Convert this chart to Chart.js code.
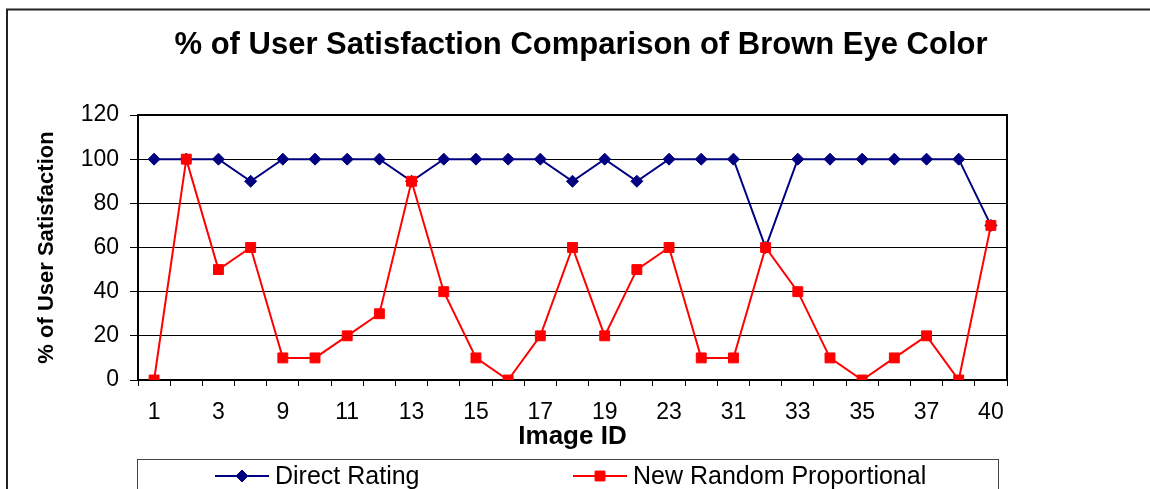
<!DOCTYPE html>
<html>
<head>
<meta charset="utf-8">
<title>% of User Satisfaction Comparison of Brown Eye Color</title>
<script src="https://cdn.jsdelivr.net/npm/chart.js@4.4.1/dist/chart.umd.min.js"></script>
<style>
  html, body { margin: 0; padding: 0; background: #fff; }
  canvas { display: block; }
</style>
</head>
<body>
<canvas id="chart" width="1150" height="489"></canvas>
<script>
// Image IDs along the x axis (every other one is labelled)
const imageIds = ['1', '2', '3', '6', '9', '10', '11', '12', '13', '14', '15', '16', '17', '18',
                  '19', '21', '23', '27', '31', '32', '33', '34', '35', '36', '37', '39', '40'];

// % of user satisfaction per image
const directRating = [100, 100, 100, 90, 100, 100, 100, 100, 90, 100, 100, 100, 100, 90,
                      100, 90, 100, 100, 100, 60, 100, 100, 100, 100, 100, 100, 70];
const newRandomProportional = [0, 100, 50, 60, 10, 10, 20, 30, 90, 40, 10, 0, 20, 60,
                               20, 50, 60, 10, 10, 60, 40, 10, 0, 10, 20, 0, 70];

// Value axis ticks
const yTicks = [0, 20, 40, 60, 80, 100, 120];

const FONT = "'Liberation Sans', Arial, Helvetica, sans-serif";

// Thin frame around the whole figure
const outerFrame = {
  id: 'outerFrame',
  beforeDraw(chart) {
    const ctx = chart.ctx;
    ctx.save();
    ctx.strokeStyle = '#222';
    ctx.lineWidth = 2;
    ctx.strokeRect(7, 9.5, 1400, 800);
    ctx.restore();
  }
};

// Black box around the plot area
const plotFrame = {
  id: 'plotFrame',
  beforeDatasetsDraw(chart) {
    const { ctx, chartArea: a } = chart;
    ctx.save();
    ctx.strokeStyle = '#000';
    ctx.lineWidth = 2;
    ctx.strokeRect(a.left, a.top, a.right - a.left, a.bottom - a.top);
    ctx.restore();
  }
};

// Legend in a bordered box under the axis, line + marker per series
const boxedLegend = {
  id: 'boxedLegend',
  afterDraw(chart, args, opts) {
    const ctx = chart.ctx;
    ctx.save();
    ctx.strokeStyle = '#444';
    ctx.lineWidth = 1;
    ctx.strokeRect(opts.left + 0.5, opts.top + 0.5, opts.right - opts.left, 80);
    ctx.font = opts.fontSize + 'px ' + FONT;
    ctx.textBaseline = 'middle';
    ctx.textAlign = 'left';
    chart.data.datasets.forEach((ds, i) => {
      const cx = opts.symbolX[i];
      const y = opts.y;
      ctx.strokeStyle = ds.borderColor;
      ctx.lineWidth = 2;
      ctx.beginPath();
      ctx.moveTo(cx - opts.lineHalf, y);
      ctx.lineTo(cx + opts.lineHalf, y);
      ctx.stroke();
      ctx.fillStyle = ds.pointBackgroundColor;
      ctx.strokeStyle = ds.pointBorderColor;
      ctx.lineWidth = 1;
      Chart.helpers.drawPoint(ctx, {
        pointStyle: ds.pointStyle, radius: ds.pointRadius, borderWidth: 1, rotation: 0
      }, cx, y);
      ctx.fillStyle = '#000';
      ctx.fillText(ds.label, cx + opts.lineHalf + 6, y + 1);
    });
    ctx.restore();
  }
};

new Chart(document.getElementById('chart'), {
  type: 'line',
  data: {
    labels: imageIds,
    datasets: [
      {
        label: 'Direct Rating',
        data: directRating,
        borderColor: '#000080',
        backgroundColor: '#000080',
        pointBackgroundColor: '#000080',
        pointBorderColor: '#000080',
        pointStyle: 'rectRot',
        pointRadius: 6,
        pointBorderWidth: 1,
        borderWidth: 2,
        tension: 0,
        order: 1
      },
      {
        label: 'New Random Proportional',
        data: newRandomProportional,
        borderColor: '#ff0000',
        backgroundColor: '#ff0000',
        pointBackgroundColor: '#ff0000',
        pointBorderColor: '#ff0000',
        pointStyle: 'rect',
        pointRadius: 7,
        pointBorderWidth: 1,
        borderWidth: 2,
        tension: 0,
        order: 0
      }
    ]
  },
  options: {
    responsive: false,
    devicePixelRatio: 1,
    animation: false,
    events: [],
    layout: { padding: { left: 12, right: 0, top: 0, bottom: 30 } },
    plugins: {
      legend: { display: false },
      tooltip: { enabled: false },
      title: {
        display: true,
        text: '% of User Satisfaction Comparison of Brown Eye Color',
        color: '#000',
        font: { family: FONT, size: 31, weight: 'bold' },
        padding: { top: 26.4, bottom: 51.4 }
      },
      boxedLegend: {
        left: 137, right: 998, top: 459, y: 476,
        symbolX: [242, 600], lineHalf: 27, fontSize: 25
      }
    },
    scales: {
      x: {
        type: 'category',
        offset: true,
        grid: {
          offset: true,
          drawOnChartArea: false,
          drawTicks: true,
          tickLength: 6,
          color: '#000',
          lineWidth: 1
        },
        border: { display: true, color: '#000', width: 2 },
        ticks: {
          autoSkip: false,
          maxRotation: 0,
          padding: 13,
          color: '#000',
          font: { family: FONT, size: 23 },
          callback(value, index) {
            return index % 2 === 0 ? this.getLabelForValue(value) : '';
          }
        },
        title: {
          display: true,
          text: 'Image ID',
          color: '#000',
          font: { family: FONT, size: 26, weight: 'bold' },
          padding: { top: 0, bottom: 6.4 }
        },
        afterFit(scale) { scale.height = 79; }
      },
      y: {
        min: 0,
        max: 120,
        afterBuildTicks(scale) { scale.ticks = yTicks.map(v => ({ value: v })); },
        grid: { color: '#000', lineWidth: 1, tickLength: 8 },
        border: { display: true, color: '#000', width: 2 },
        ticks: {
          padding: 11,
          color: '#000',
          font: { family: FONT, size: 23 }
        },
        title: {
          display: true,
          text: '% of User Satisfaction',
          color: '#000',
          font: { family: FONT, size: 22, weight: 'bold' },
          padding: { top: 21.8, bottom: 0 }
        },
        afterFit(scale) { scale.width = 126; }
      },
      gutter: {
        type: 'linear',
        axis: 'y',
        position: 'right',
        display: true,
        grid: { display: false },
        ticks: { display: false },
        border: { display: false },
        afterFit(scale) { scale.width = 143; }
      }
    }
  },
  plugins: [outerFrame, plotFrame, boxedLegend]
});
</script>
</body>
</html>
